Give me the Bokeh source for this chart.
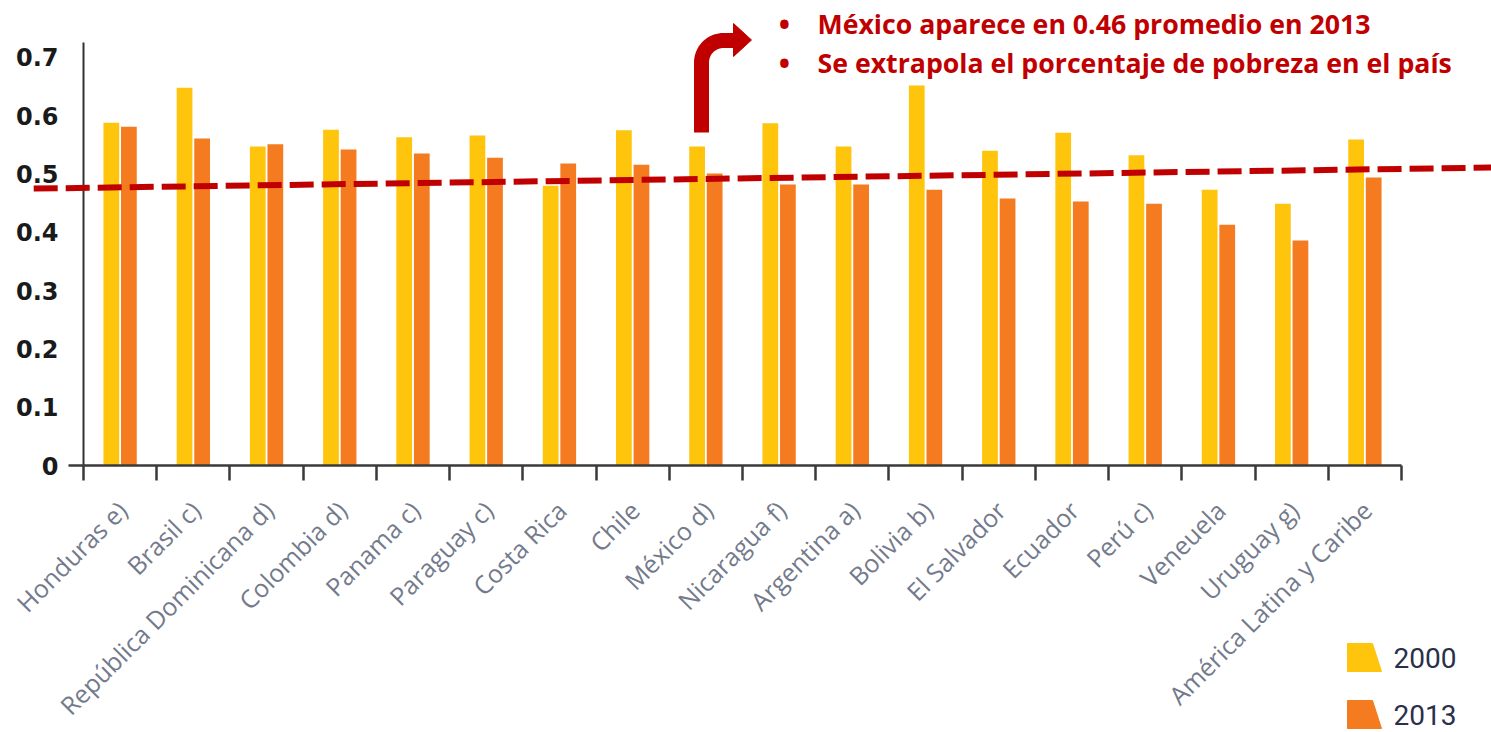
import numpy as np
from bokeh.plotting import figure
from bokeh.models import Range1d, FixedTicker, ColumnDataSource
from bokeh.core.properties import value
from bokeh.embed import file_html
from bokeh.resources import INLINE

# ---------------- data ----------------
countries = ["Honduras e)", "Brasil c)", "República Dominicana d)", "Colombia d)",
             "Panama c)", "Paraguay c)", "Costa Rica", "Chile", "México d)",
             "Nicaragua f)", "Argentina a)", "Bolivia b)", "El Salvador", "Ecuador",
             "Perú c)", "Veneuela", "Uruguay g)", "América Latina y Caribe"]
values_2000 = [0.588, 0.648, 0.547, 0.576, 0.563, 0.566, 0.480, 0.575, 0.547,
               0.587, 0.547, 0.652, 0.540, 0.571, 0.532, 0.473, 0.449, 0.559]
values_2013 = [0.581, 0.561, 0.551, 0.542, 0.535, 0.528, 0.518, 0.516, 0.501,
               0.482, 0.482, 0.473, 0.458, 0.453, 0.449, 0.413, 0.386, 0.494]
series_labels = ["2000", "2013"]
y_ticks = [0, 0.1, 0.2, 0.3, 0.4, 0.5, 0.6, 0.7]
y_tick_labels = ["0", "0.1", "0.2", "0.3", "0.4", "0.5", "0.6", "0.7"]
# dashed trend line (start / end) in data units
trend_x = [-0.68, 19.23]
trend_y = [0.475, 0.511]
notes = ["México aparece en 0.46 promedio en 2013",
         "Se extrapola el porcentaje de pobreza en el país"]

# ---------------- layout ----------------
W, H = 1491, 732
BL, BT, BR, BB = 83, 42, 90, 267
n = len(countries)
Y_TOP = 0.7256
frame_w = W - BL - BR
frame_h = H - BT - BB
px_per_x = frame_w / n
px_per_y = frame_h / Y_TOP

YELLOW = "#FFC40C"
ORANGE = "#F47B20"
COLORS = [YELLOW, ORANGE]
RED = "#C00000"

p = figure(width=W, height=H, x_range=Range1d(0, n), y_range=Range1d(0, Y_TOP),
           output_backend="svg", toolbar_location=None,
           min_border_left=BL, min_border_top=BT, min_border_right=BR, min_border_bottom=BB)
p.outline_line_color = None
p.xgrid.visible = False
p.ygrid.visible = False
p.background_fill_color = "white"

centers = [i + 0.5 for i in range(n)]
src = ColumnDataSource(dict(x0=[c - 0.12 for c in centers], x1=[c + 0.12 for c in centers],
                            v0=values_2000, v1=values_2013))
p.vbar(x="x0", top="v0", bottom=0, width=0.215, source=src, fill_color=YELLOW, line_color=None)
p.vbar(x="x1", top="v1", bottom=0, width=0.215, source=src, fill_color=ORANGE, line_color=None)

# helpers: pixel geometry -> data units (for annotations only)
def dx(px):
    return (px - BL) / px_per_x

def dy(py):
    return (H - BB - py) / px_per_y

# x axis: ticks at category boundaries; rotated category names drawn below
xa = p.xaxis[0]
xa.ticker = FixedTicker(ticks=centers, minor_ticks=list(range(n + 1)))
xa.major_label_overrides = {c: "" for c in centers}
xa.major_tick_out = 0
xa.major_tick_in = 0
xa.minor_tick_out = 15
xa.minor_tick_in = 0
xa.minor_tick_line_width = 2.5
xa.minor_tick_line_color = "#3a3a3a"
xa.axis_line_width = 2.5
xa.axis_line_color = "#3a3a3a"

p.text(x=[c + 2 / px_per_x for c in centers], y=[dy(H - BB + 40)] * n, text=countries,
       angle=np.pi / 4, text_align="right", text_baseline="middle",
       text_font=value("Open Sans"), text_font_size="25px", text_color="#737a8c",
       level="overlay")

# extension of x axis line to the left of the y axis
p.line(x=[-15 / px_per_x, 0], y=[0, 0], line_width=2.5, line_color="#3a3a3a", level="overlay")

# y axis
ya = p.yaxis[0]
ya.ticker = FixedTicker(ticks=y_ticks)
ya.major_label_overrides = {t: l for t, l in zip(y_ticks, y_tick_labels)}
ya.major_tick_out = 0
ya.major_tick_in = 0
ya.minor_tick_out = 0
ya.minor_tick_in = 0
ya.axis_line_width = 2
ya.axis_line_color = "#333333"
ya.major_label_standoff = 25
ya.major_label_text_font = "DejaVu Sans"
ya.major_label_text_font_style = "bold"
ya.major_label_text_font_size = "24px"
ya.major_label_text_color = "#1a1a1a"

# dashed trend line
p.line(x=trend_x, y=trend_y, line_color=RED, line_width=6, line_dash="24 8", level="overlay")

# bent arrow
t = np.linspace(0, np.pi / 2, 20)
ax_px = np.concatenate([[701, 701], 723 - 22 * np.cos(t), [735]])
ay_px = np.concatenate([[132, 62], 62 - 22 * np.sin(t), [40]])
p.line(x=[dx(v) for v in ax_px], y=[dy(v) for v in ay_px], line_color=RED,
       line_width=15, line_join="miter", line_cap="butt", level="overlay")
p.patch(x=[dx(733), dx(733), dx(751)], y=[dy(23), dy(56), dy(39.5)],
        fill_color=RED, line_color=RED, line_width=1, level="overlay")

# notes
note_y = [dy(23 + 39 * i) for i in range(len(notes))]
p.text(x=[dx(784)] * len(notes), y=note_y, text=["•"] * len(notes),
       text_align="center", text_baseline="middle", text_font=value("Open Sans"),
       text_font_style="bold", text_font_size="30px", text_color=RED, level="overlay")
p.text(x=[dx(817)] * len(notes), y=note_y, text=notes,
       text_align="left", text_baseline="middle", text_font=value("Open Sans"),
       text_font_style="bold", text_font_size="26.7px", text_color=RED, level="overlay")

# legend (drawn below the plot area, at the lower right)
leg_top = [643, 700]
for tp, col in zip(leg_top, COLORS):
    p.patch(x=[dx(1347), dx(1372), dx(1381), dx(1347)],
            y=[dy(tp), dy(tp), dy(tp + 28), dy(tp + 28)],
            fill_color=col, line_color=col, line_width=1, level="overlay")
p.text(x=[dx(1393)] * len(leg_top), y=[dy(tp + 14) for tp in leg_top], text=series_labels,
       text_align="left", text_baseline="middle", text_font=value("Roboto"),
       text_font_size="28px", text_color="#2b2f4a", level="overlay")

open("out.html", "w").write(file_html(p, INLINE))
